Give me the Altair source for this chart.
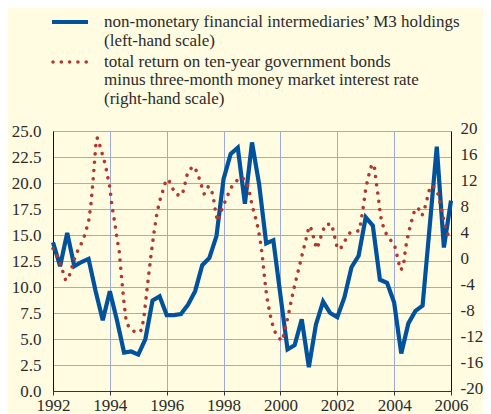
import altair as alt
import pandas as pd

# ---- data -------------------------------------------------------------
# non-monetary financial intermediaries' M3 holdings (left-hand scale), quarterly
blue_years = [1992, 1993, 1994, 1995, 1996, 1997, 1998, 1999, 2000, 2001, 2002, 2003, 2004, 2005]
blue_quarters = [0.0, 0.25, 0.5, 0.75]
blue_v = [
    14.3, 12.0, 15.2, 12.0,
    12.4, 12.7, 9.6, 6.8,
    9.6, 6.8, 3.7, 3.8,
    3.5, 5.0, 8.7, 9.1,
    7.3, 7.3, 7.4, 8.3,
    9.6, 12.1, 12.8, 14.9,
    20.4, 22.8, 23.4, 18.0,
    23.9, 19.9, 14.2, 14.5,
    9.2, 4.0, 4.4, 6.9,
    2.3, 6.4, 8.6, 7.5,
    7.1, 9.0, 11.9, 13.0,
    16.7, 15.9, 10.7, 10.4,
    8.5, 3.6, 6.5, 7.7,
    8.2, 15.8, 23.5, 13.8,
    18.3,
]
blue_t = [y + q for y in blue_years for q in blue_quarters] + [2006.0]

# total return on ten-year government bonds minus 3-month rate (right-hand scale)
red_t = [
    1992.00, 1992.15, 1992.30, 1992.45, 1992.55, 1992.65, 1992.80, 1992.95,
    1993.10, 1993.25, 1993.33, 1993.42, 1993.50, 1993.53, 1993.58, 1993.67,
    1993.83, 1994.00, 1994.08, 1994.17, 1994.25, 1994.33, 1994.42, 1994.50,
    1994.58, 1994.70, 1994.95, 1995.12, 1995.20, 1995.33, 1995.45, 1995.55,
    1995.65, 1995.75, 1995.90, 1995.98, 1996.07, 1996.19, 1996.33, 1996.54,
    1996.62, 1996.70, 1996.76, 1996.95, 1997.09, 1997.17, 1997.32, 1997.47,
    1997.57, 1997.65, 1997.72, 1997.79, 1997.89, 1998.00, 1998.12, 1998.23,
    1998.37, 1998.61, 1998.78, 1998.88, 1999.00, 1999.16, 1999.28, 1999.36,
    1999.45, 1999.52, 1999.63, 1999.77, 1999.91, 2000.06, 2000.14, 2000.27,
    2000.45, 2000.66, 2000.80, 2000.95, 2001.01, 2001.09, 2001.16, 2001.24,
    2001.30, 2001.38, 2001.48, 2001.57, 2001.80, 2001.87, 2001.94, 2002.01,
    2002.14, 2002.28, 2002.44, 2002.62, 2002.78, 2002.83, 2002.92, 2003.00,
    2003.13, 2003.22, 2003.30, 2003.37, 2003.45, 2003.52, 2003.59, 2003.68,
    2003.84, 2004.01, 2004.09, 2004.15, 2004.23, 2004.33, 2004.36, 2004.44,
    2004.58, 2004.74, 2004.85, 2004.98, 2005.05, 2005.20, 2005.27, 2005.38,
    2005.53, 2005.67, 2005.79, 2005.88, 2006.00,
]
red_v = [
    1.9, 0.7, -1.0, -3.0, -2.6, -1.2, 1.0, 2.2,
    3.8, 6.0, 8.5, 13.0, 17.5, 18.9, 18.9, 17.4,
    15.0, 11.3, 8.3, 6.0, 3.5, 1.5, -2.9, -6.5,
    -9.4, -10.4, -11.1, -10.6, -8.5, -3.5, 1.0, 4.3,
    7.2, 9.2, 11.3, 12.5, 12.5, 11.3, 10.2, 10.1,
    11.4, 13.0, 13.9, 14.6, 13.5, 12.3, 10.3, 11.5,
    11.0, 9.5, 7.5, 6.1, 7.4, 8.6, 9.8, 11.0,
    12.0, 12.9, 12.4, 11.2, 8.6, 6.1, 3.5, 0.9,
    -2.9, -5.5, -8.1, -10.6, -11.7, -12.3, -11.0, -8.5,
    -4.7, -0.9, 1.6, 4.2, 5.4, 4.9, 3.7, 2.4,
    1.9, 3.2, 4.4, 5.6, 5.7, 4.4, 3.1, 1.8,
    2.1, 3.2, 4.3, 4.5, 4.7, 6.0, 8.5, 11.1,
    13.6, 14.9, 14.7, 12.1, 9.6, 7.0, 5.7, 4.5,
    3.4, 2.5, 1.1, -0.1, -1.4, -0.8, 0.6, 3.0,
    5.6, 8.1, 8.1, 7.0, 7.7, 10.2, 11.5, 11.5,
    10.5, 7.9, 5.4, 4.2, 3.1,
]

x_ticks = [1992, 1994, 1996, 1998, 2000, 2002, 2004, 2006]
left_ticks = [0.0, 2.5, 5.0, 7.5, 10.0, 12.5, 15.0, 17.5, 20.0, 22.5, 25.0]
right_ticks = [-20, -16, -12, -8, -4, 0, 4, 8, 12, 16, 20]

legend_lines = [
    "non-monetary financial intermediaries\u2019 M3 holdings",
    "(left-hand scale)",
    "total return on ten-year government bonds",
    "minus three-month money market interest rate",
    "(right-hand scale)",
]

# ---- styling ----------------------------------------------------------
BG = "#FFFCE1"
BLUE = "#00529C"
RED = "#B2372E"
GRID = "#9CABD9"
TXT = "#2B2B2B"
FONT = "'Liberation Serif', 'Times New Roman', 'DejaVu Serif', serif"
FS = 17

df_blue = pd.DataFrame({"t": blue_t, "v": blue_v})
df_red = pd.DataFrame({"t": red_t, "v": red_v})
one_row = alt.Data(values=[{"k": 1}])

xscale = alt.Scale(domain=[1992, 2006], nice=False, zero=False)


def x_axis():
    return alt.Axis(values=x_ticks, format="d", title=None, grid=True,
                    gridColor=GRID, gridWidth=1, tickSize=4, labelPadding=2,
                    labelFlush=False, labelOverlap=False,
                    domainColor="#333", tickColor="#333",
                    labelFont=FONT, labelFontSize=FS, labelColor=TXT)


blue = alt.Chart(df_blue).mark_line(color=BLUE, strokeWidth=4.2, strokeJoin="miter").encode(
    x=alt.X("t:Q", scale=xscale, axis=x_axis()),
    y=alt.Y("v:Q", scale=alt.Scale(domain=[0, 25], nice=False, zero=False),
            axis=alt.Axis(orient="left", values=left_ticks, format=".1f", title=None,
                          grid=True, gridColor=GRID, gridWidth=1, tickSize=0,
                          labelPadding=12, domainColor="#111",
                          labelFlush=False, labelOverlap=False,
                          labelFont=FONT, labelFontSize=FS, labelColor=TXT)),
)

red = alt.Chart(df_red).mark_line(color=RED, strokeWidth=3.6, strokeDash=[0.01, 8.3],
                                   strokeCap="round").encode(
    x=alt.X("t:Q", scale=xscale, axis=x_axis()),
    y=alt.Y("v:Q", scale=alt.Scale(domain=[-20, 20], nice=False, zero=False),
            axis=alt.Axis(orient="right", values=right_ticks, title=None,
                          labelExpr="datum.value < 0 ? '-' + abs(datum.value) : '' + datum.value",
                          grid=False, tickSize=0, labelPadding=9, labelOffset=-3,
                          domainColor="#111",
                          labelFlush=False, labelOverlap=False,
                          labelFont=FONT, labelFontSize=FS, labelColor=TXT)),
)

# ---- legend (drawn above the plot area) --------------------------------
leg_blue = alt.Chart(one_row).mark_rule(color=BLUE, strokeWidth=4).encode(
    x=alt.value(-1), x2=alt.value(35), y=alt.value(-109))
leg_red = alt.Chart(one_row).mark_rule(color=RED, strokeWidth=3.6, strokeDash=[0.01, 8.3],
                                       strokeCap="round").encode(
    x=alt.value(0), x2=alt.value(36), y=alt.value(-69))

leg_y = [-109, -90, -69, -51, -32]
leg_texts = [
    alt.Chart(one_row).mark_text(align="left", baseline="middle", font=FONT,
                                 fontSize=FS, color=TXT).encode(
        x=alt.value(51), y=alt.value(yy), text=alt.value(line))
    for line, yy in zip(legend_lines, leg_y)
]

chart = alt.layer(blue, red).resolve_scale(y="independent")
chart = alt.layer(chart, leg_blue, leg_red, *leg_texts).properties(
    width=398, height=260,
    autosize=alt.AutoSizeParams(type="none"),
    padding={"left": 45, "top": 123, "right": 32, "bottom": 23},
    background=BG,
).configure_view(stroke=None)

chart.save("out.html", embed_options={"renderer": "svg", "actions": False})
